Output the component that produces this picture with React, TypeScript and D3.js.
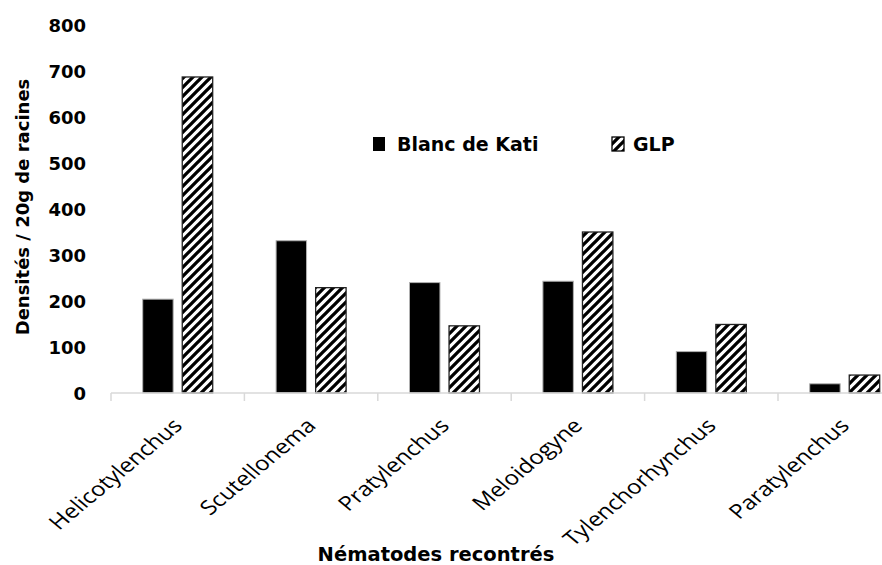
import React from "react";
import * as d3 from "d3";

const categories = ["Helicotylenchus", "Scutellonema", "Pratylenchus", "Meloidogyne", "Tylenchorhynchus", "Paratylenchus"];
const seriesNames = ["Blanc de Kati", "GLP"];
const blancDeKati = [204, 331, 240, 243, 90, 20];
const glp = [687, 229, 146, 350, 149, 39];
const yTicks = [0, 100, 200, 300, 400, 500, 600, 700, 800];

const W = 882;
const H = 565;
const STRETCH = 1.2;

export default function App() {
  const x = d3.scaleBand<string>().domain(categories).range([111, 111 + 6 * 133.4]).paddingInner(0).paddingOuter(0);
  const y = d3.scaleLinear().domain([0, 800]).range([393, 25]);
  const sub = d3.scaleBand<string>().domain(seriesNames).range([0, 70]).paddingInner(0.23);
  const values = [blancDeKati, glp];
  const bw = x.bandwidth();
  const boundaries = categories.map((c) => x(c) as number).concat([(x(categories[5]) as number) + bw]);

  return (
    <svg width={W} height={H} style={{ position: "absolute", left: 0, top: 0, background: "#fff" }}>
      <defs>
        <pattern id="hatch" patternUnits="userSpaceOnUse" width={9} height={9}>
          <rect width={9} height={9} fill="#fff" />
          <path d="M-2,2 L2,-2 M0,9 L9,0 M7,11 L11,7" stroke="#000" strokeWidth={3.3} />
        </pattern>
      </defs>
      {/* bars */}
      {categories.map((c, i) => {
        const cx = (x(c) as number) + bw / 2 - 35;
        return seriesNames.map((s, j) => {
          const v = values[j][i];
          const bx = cx + (sub(s) as number);
          return (
            <rect
              key={c + s}
              x={bx}
              y={y(v)}
              width={sub.bandwidth()}
              height={y(0) - y(v)}
              fill={j === 0 ? "#000" : "url(#hatch)"}
              stroke={j === 0 ? "#b0b0b0" : "#222"}
              strokeWidth={j === 0 ? 1 : 1.3}
            />
          );
        });
      })}
      {/* x axis */}
      <line x1={111} x2={W} y1={393} y2={393} stroke="#d9d9d9" strokeWidth={1.5} />
      {boundaries.map((b, i) => (
        <line key={i} x1={b} x2={b} y1={393} y2={401} stroke="#d9d9d9" strokeWidth={1.5} />
      ))}
      {/* y tick labels */}
      {yTicks.map((t) => (
        <text key={t} x={86} y={y(t) + 6.5} textAnchor="end" fontFamily="DejaVu Sans" fontWeight="bold" fontSize={18} fill="#000">
          {t}
        </text>
      ))}
      {/* x labels */}
      {categories.map((c) => {
        const px = (x(c) as number) + bw / 2 + 6;
        const py = 427;
        return (
          <text
            key={c}
            transform={`translate(${px},${py}) scale(${STRETCH},1) rotate(-45)`}
            textAnchor="end"
            fontFamily="Open Sans"
            fontSize={20}
            fill="#000"
          >
            {c}
          </text>
        );
      })}
      {/* y axis title */}
      <text
        transform={`translate(29,207) rotate(-90)`}
        textAnchor="middle"
        fontFamily="DejaVu Sans"
        fontWeight="bold"
        fontSize={18}
        fill="#000"
      >
        Densités / 20g de racines
      </text>
      {/* x axis title */}
      <text x={436} y={561} textAnchor="middle" fontFamily="DejaVu Sans" fontWeight="bold" fontSize={19.5} fill="#000">
        Nématodes recontrés
      </text>
      {/* legend */}
      <rect x={373} y={137} width={12} height={14} fill="#000" />
      <text x={397} y={151} fontFamily="DejaVu Sans" fontWeight="bold" fontSize={19} fill="#000">
        {seriesNames[0]}
      </text>
      <rect x={612} y={137} width={12} height={14} fill="url(#hatch)" stroke="#000" strokeWidth={1.3} />
      <text x={633} y={151} fontFamily="DejaVu Sans" fontWeight="bold" fontSize={19} fill="#000">
        {seriesNames[1]}
      </text>
    </svg>
  );
}
